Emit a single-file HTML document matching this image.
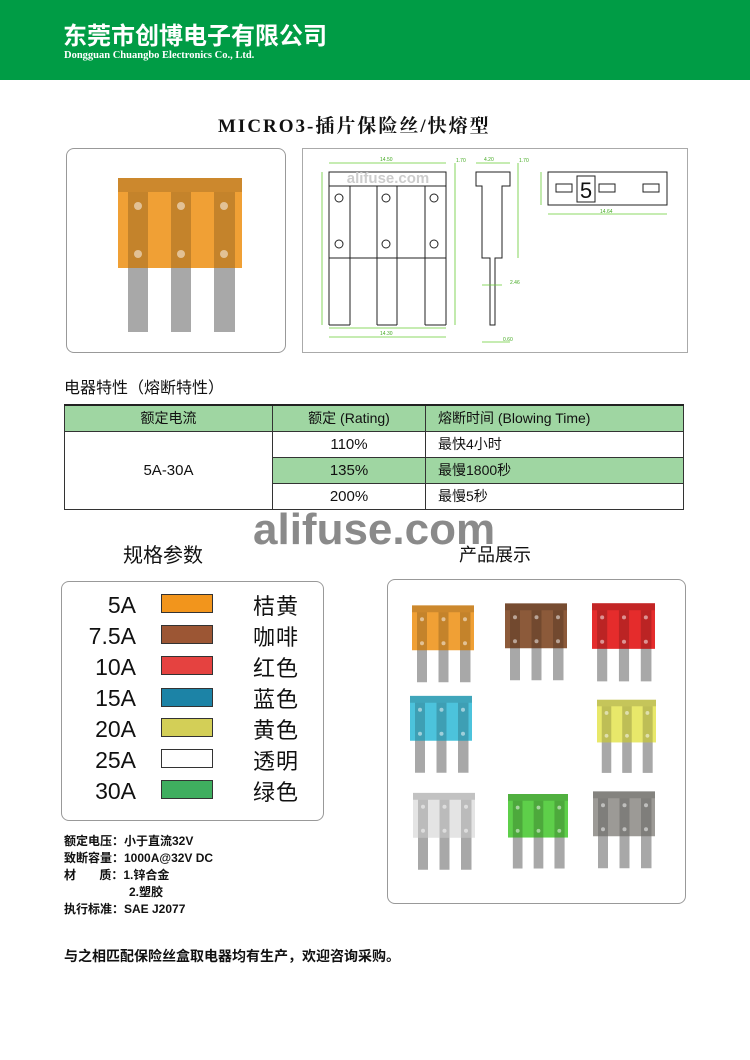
<!DOCTYPE html>
<html><head><meta charset="utf-8">
<style>
*{margin:0;padding:0;box-sizing:border-box}
body{width:750px;height:1060px;background:#fff;position:relative;overflow:hidden;font-family:"Liberation Sans","Noto Sans CJK SC",sans-serif;color:#111}
.a{position:absolute;white-space:nowrap}
.hdr{position:absolute;left:0;top:0;width:750px;height:80px;background:#009c45}
table{position:absolute;left:64px;top:404px;width:620px;border-collapse:collapse;font-size:14px}
td{border:1px solid #333;height:26px;padding:0}
.box{position:absolute;border:1.5px solid #999;border-radius:8px;background:#fff}
.sw{position:absolute;left:161px;width:52px;height:19px;border:1px solid #333}
.amp{position:absolute;left:60px;width:76px;text-align:right;font-size:23px;line-height:26px}
.cn{position:absolute;left:253px;font-size:22px;line-height:26px;letter-spacing:1px}
.nt{position:absolute;left:64px;font-size:12px;font-weight:bold;line-height:17px}
</style></head><body>
<svg width="0" height="0" style="position:absolute">
<defs>
<symbol id="fz" viewBox="0 0 124 155">
<rect x="10" y="88" width="20" height="66" fill="#a8a8a8"/>
<rect x="53" y="88" width="20" height="66" fill="#a8a8a8"/>
<rect x="96" y="88" width="21" height="66" fill="#a8a8a8"/>
<rect x="0" y="0" width="124" height="90" fill="currentColor"/>
<rect x="0" y="0" width="124" height="14" fill="#000" opacity=".15"/>
<rect x="10" y="14" width="20" height="76" fill="#000" opacity=".18"/>
<rect x="53" y="14" width="20" height="76" fill="#000" opacity=".18"/>
<rect x="96" y="14" width="21" height="76" fill="#000" opacity=".18"/>
<circle cx="20" cy="28" r="4" fill="#fff" opacity=".5"/><circle cx="63" cy="28" r="4" fill="#fff" opacity=".5"/><circle cx="106" cy="28" r="4" fill="#fff" opacity=".5"/>
<circle cx="20" cy="76" r="4" fill="#fff" opacity=".5"/><circle cx="63" cy="76" r="4" fill="#fff" opacity=".5"/><circle cx="106" cy="76" r="4" fill="#fff" opacity=".5"/>
</symbol>
</defs></svg>

<div class="hdr"></div>
<div class="a" style="left:63px;top:23px;font-size:24px;line-height:28px;font-weight:bold;color:#fff">东莞市创博电子有限公司</div>
<div class="a" style="left:64px;top:50px;font-size:10.5px;line-height:11px;font-weight:bold;color:#fff;font-family:'Liberation Serif',serif">Dongguan Chuangbo Electronics Co., Ltd.</div>

<div class="a" style="left:218px;top:111px;font-size:19px;font-weight:bold;letter-spacing:2px;font-family:'Liberation Serif','Noto Serif CJK SC',serif">MICRO3-插片保险丝/快熔型</div>

<div class="box" style="left:66px;top:148px;width:220px;height:205px"></div>
<svg class="a" style="left:118px;top:178px" width="124" height="155"><use href="#fz" style="color:#f0a035"/></svg>

<div class="a" style="left:302px;top:148px;width:386px;height:205px;border:1px solid #aaa"></div>
<svg class="a" style="left:302px;top:148px" width="386" height="205" viewBox="302 148 386 205">
<g fill="none" stroke="#222" stroke-width="1">
<rect x="329" y="172" width="117" height="14"/>
<rect x="329" y="186" width="117" height="72"/>
<line x1="350" y1="186" x2="350" y2="325"/><line x1="377" y1="186" x2="377" y2="325"/><line x1="397" y1="186" x2="397" y2="325"/><line x1="425" y1="186" x2="425" y2="325"/>
<line x1="329" y1="258" x2="329" y2="325"/><line x1="446" y1="258" x2="446" y2="325"/>
<line x1="329" y1="325" x2="350" y2="325"/><line x1="377" y1="325" x2="397" y2="325"/><line x1="425" y1="325" x2="446" y2="325"/>
<circle cx="339" cy="198" r="4"/><circle cx="386" cy="198" r="4"/><circle cx="434" cy="198" r="4"/>
<circle cx="339" cy="244" r="4"/><circle cx="386" cy="244" r="4"/><circle cx="434" cy="244" r="4"/>
<path d="M476 172H510V186H502V258H495V325H490V258H482V186H476Z"/>
<rect x="548" y="172" width="119" height="33"/>
<rect x="556" y="184" width="16" height="8"/><rect x="599" y="184" width="16" height="8"/><rect x="643" y="184" width="16" height="8"/>
<rect x="577" y="176" width="18" height="26"/>
</g>
<text x="586" y="198" font-size="22" text-anchor="middle" font-family="Liberation Sans" fill="#111">5</text>
<text x="388" y="183" font-size="15" font-weight="bold" text-anchor="middle" fill="#ccc" font-family="Liberation Sans">alifuse.com</text>
<g stroke="#6c3" stroke-width="0.8" fill="none">
<line x1="329" y1="163" x2="446" y2="163"/><line x1="322" y1="172" x2="322" y2="325"/><line x1="455" y1="163" x2="455" y2="325"/>
<line x1="329" y1="337" x2="446" y2="337"/><line x1="329" y1="328" x2="446" y2="328"/>
<line x1="476" y1="163" x2="510" y2="163"/><line x1="518" y1="163" x2="518" y2="258"/><line x1="482" y1="285" x2="502" y2="285"/>
<line x1="482" y1="342" x2="510" y2="342"/><line x1="541" y1="172" x2="541" y2="205"/><line x1="548" y1="214" x2="667" y2="214"/>
</g>
<g fill="#4a2" font-size="5" font-family="Liberation Sans">
<text x="380" y="161">14.50</text><text x="456" y="162">1.70</text><text x="380" y="335">14.30</text>
<text x="484" y="161">4.20</text><text x="519" y="162">1.70</text><text x="510" y="284">2.46</text><text x="503" y="341">0.60</text><text x="600" y="213">14.64</text>
</g>
</svg>

<div class="a" style="left:64px;top:374px;font-size:16px">电器特性（熔断特性）</div>
<table>
<tr style="background:#9fd6a2;text-align:center;border-top:2px solid #222"><td style="width:208px">额定电流</td><td style="width:153px">额定 (Rating)</td><td style="text-align:left;padding-left:12px">熔断时间 (Blowing Time)</td></tr>
<tr><td rowspan="3" style="text-align:center;font-size:15px">5A-30A</td><td style="text-align:center;font-size:15px">110%</td><td style="padding-left:12px">最快4小时</td></tr>
<tr style="background:#9fd6a2"><td style="text-align:center;font-size:15px">135%</td><td style="padding-left:12px">最慢1800秒</td></tr>
<tr><td style="text-align:center;font-size:15px">200%</td><td style="padding-left:12px">最慢5秒</td></tr>
</table>

<div class="a" style="left:253px;top:505px;font-size:44px;font-weight:bold;color:#8a8a8a">alifuse.com</div>
<div class="a" style="left:123px;top:539px;font-size:20px">规格参数</div>
<div class="a" style="left:459px;top:541px;font-size:18px">产品展示</div>

<div class="box" style="left:61px;top:581px;width:263px;height:240px"></div>
<div class="amp" style="top:592px">5A</div><div class="sw" style="top:594px;background:#f2951c"></div><div class="cn" style="top:594px">桔黄</div>
<div class="amp" style="top:623px">7.5A</div><div class="sw" style="top:625px;background:#9c5634"></div><div class="cn" style="top:625px">咖啡</div>
<div class="amp" style="top:654px">10A</div><div class="sw" style="top:656px;background:#e54240"></div><div class="cn" style="top:656px">红色</div>
<div class="amp" style="top:685px">15A</div><div class="sw" style="top:688px;background:#1c83a6"></div><div class="cn" style="top:687px">蓝色</div>
<div class="amp" style="top:716px">20A</div><div class="sw" style="top:718px;background:#d3cf57"></div><div class="cn" style="top:718px">黄色</div>
<div class="amp" style="top:747px">25A</div><div class="sw" style="top:749px;background:#fff"></div><div class="cn" style="top:749px">透明</div>
<div class="amp" style="top:778px">30A</div><div class="sw" style="top:780px;background:#3fae5f"></div><div class="cn" style="top:780px">绿色</div>

<div class="nt" style="top:833px">额定电压：小于直流32V</div>
<div class="nt" style="top:850px">致断容量：1000A@32V DC</div>
<div class="nt" style="top:867px">材&nbsp;&nbsp;&nbsp;&nbsp;&nbsp;&nbsp;&nbsp;质：1.锌合金</div>
<div class="nt" style="top:884px;left:129px">2.塑胶</div>
<div class="nt" style="top:901px">执行标准：SAE J2077</div>

<div class="box" style="left:387px;top:579px;width:299px;height:325px"></div>
<svg class="a" style="left:412px;top:605px" width="62" height="78" viewBox="0 0 124 155"><use href="#fz" style="color:#f0a035"/></svg>
<svg class="a" style="left:505px;top:603px" width="62" height="78" viewBox="0 0 124 155"><use href="#fz" style="color:#8c5a3a"/></svg>
<svg class="a" style="left:592px;top:603px" width="63" height="79" viewBox="0 0 124 155"><use href="#fz" style="color:#e52c2c"/></svg>
<svg class="a" style="left:410px;top:695px" width="62" height="79" viewBox="0 0 124 155"><use href="#fz" style="color:#4cc3dc"/></svg>
<svg class="a" style="left:597px;top:697px" width="59" height="79" viewBox="0 0 124 155"><use href="#fz" style="color:#e8e86a"/></svg>
<svg class="a" style="left:413px;top:792px" width="62" height="79" viewBox="0 0 124 155"><use href="#fz" style="color:#e4e4e4"/></svg>
<svg class="a" style="left:508px;top:792px" width="60" height="79" viewBox="0 0 124 155"><use href="#fz" style="color:#5ecf4a"/></svg>
<svg class="a" style="left:593px;top:791px" width="62" height="78" viewBox="0 0 124 155"><use href="#fz" style="color:#9c9a96"/></svg>

<div class="a" style="left:64px;top:946px;font-size:14px;font-weight:bold">与之相匹配保险丝盒取电器均有生产，欢迎咨询采购。</div>
</body></html>
